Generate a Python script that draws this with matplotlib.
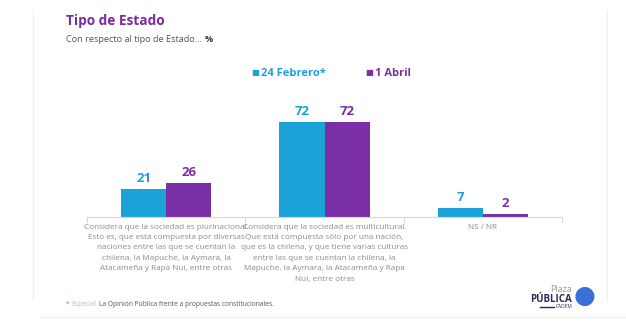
import numpy as np
import matplotlib.pyplot as plt
from matplotlib.lines import Line2D

categorias = [
    "Considera que la sociedad es plurinacional.\nEsto es, que está compuesta por diversas\nnaciones entre las que se cuentan la\nchilena, la Mapuche, la Aymara, la\nAtacameña y Rapa Nui, entre otras",
    "Considera que la sociedad es multicultural.\nQue está compuesta sólo por una nación,\nque es la chilena, y que tiene varias culturas\nentre las que se cuentan la chilena, la\nMapuche, la Aymara, la Atacameña y Rapa\nNui, entre otras",
    "NS / NR",
]
series = ["24 Febrero*", "1 Abril"]
febrero = [21, 72, 7]
abril = [26, 72, 2]

CIAN = "#1ba3d9"
MORADO = "#7b2fa6"
GRIS = "#8c8c8c"

plt.rcParams['font.family'] = ['Open Sans', 'DejaVu Sans']

fig = plt.figure(figsize=(6.26, 3.24), dpi=100)
W, H = 626, 324

# marco suave de la tarjeta
fig.add_artist(Line2D([33 / W, 33 / W], [1 - 10 / H, 1 - 300 / H], color="#f0f0f0", lw=1))
fig.add_artist(Line2D([607 / W, 607 / W], [1 - 10 / H, 1 - 300 / H], color="#f0f0f0", lw=1))
fig.add_artist(Line2D([40 / W, 1.0], [1 - 317 / H, 1 - 317 / H], color="#f0f0f0", lw=1))

# ejes: base en y=217 px, 72 -> 95 px
ax = fig.add_axes([87 / W, 1 - 217 / H, 475 / W, 132 / H])
x = np.arange(len(categorias))
ancho = 0.285
ax.bar(x - ancho / 2, febrero, ancho, color=CIAN)
ax.bar(x + ancho / 2, abril, ancho, color=MORADO)
for i in range(len(categorias)):
    ax.text(x[i] - ancho / 2, febrero[i] + 3, str(febrero[i]), ha="center", va="bottom",
            color=CIAN, fontsize=9.5, fontweight="bold")
    ax.text(x[i] + ancho / 2, abril[i] + 3, str(abril[i]), ha="center", va="bottom",
            color=MORADO, fontsize=9.5, fontweight="bold")
    ax.text(x[i], -5.0, categorias[i], ha="center", va="top", color=GRIS,
            fontsize=5.9, linespacing=1.68)

ax.set_xlim(-0.5, 2.5)
ax.set_ylim(0, 100)
for s in ["top", "right", "left"]:
    ax.spines[s].set_visible(False)
ax.spines["bottom"].set_color("#d9d9d9")
ax.set_yticks([])
ax.set_xticks([-0.5, 0.5, 1.5, 2.5])
ax.set_xticklabels([])
ax.tick_params(axis="x", length=4, color="#d9d9d9")


def a_continuacion(prev, texto, sep=2, **kw):
    # coloca un texto justo despues de otro
    return ax.annotate(texto, xy=(1, 0.5), xycoords=prev, xytext=(sep, 0),
                       textcoords="offset points", va="center", ha="left",
                       annotation_clip=False, **kw)


# titulo y subtitulo
fig.text(66 / W, 1 - 21 / H, "Tipo de Estado", color="#7a2a9c", fontsize=9.8,
         fontweight="bold", va="center")
sub = fig.text(66 / W, 1 - 40 / H, "Con respecto al tipo de Estado...", color="#555555",
               fontsize=6.6, va="center")
a_continuacion(sub, "%", color="#333333", fontsize=6.6, fontweight="bold")

# leyenda
c1 = fig.text(251 / W, 1 - 73 / H, "■", color=CIAN, fontsize=6, va="center", family="DejaVu Sans")
a_continuacion(c1, series[0], sep=1.5, color=CIAN, fontsize=8, fontweight="bold")
c2 = fig.text(365 / W, 1 - 73 / H, "■", color=MORADO, fontsize=6, va="center", family="DejaVu Sans")
a_continuacion(c2, series[1], sep=1.5, color=MORADO, fontsize=8, fontweight="bold")

# nota al pie
n1 = fig.text(66 / W, 1 - 304 / H, "*", color="#e05a8a", fontsize=4.8, va="center")
n2 = a_continuacion(n1, "Especial", sep=1.5, color="#bbbbbb", fontsize=4.8)
a_continuacion(n2, "La Opinión Pública frente a propuestas constitucionales.", sep=1.5,
               color="#555555", fontsize=4.8)

# logo
fig.text(572 / W, 1 - 290 / H, "Plaza", color="#999999", fontsize=6.5, ha="right", va="center")
fig.text(572 / W, 1 - 299 / H, "PÚBLICA", color="#2b2b5a", fontsize=7, fontweight="bold",
         ha="right", va="center")
fig.text(572 / W, 1 - 307 / H, "CADEM", color="#2b2b5a", fontsize=3.5, ha="right", va="center")
fig.add_artist(Line2D([540 / W, 554 / W], [1 - 307 / H, 1 - 307 / H], color="#2b2b5a", lw=1))
fig.text(585 / W, 1 - 296 / H, "●", color="#3a6fd8", fontsize=18, ha="center", va="center",
         family="DejaVu Sans")

fig.savefig("out.png", dpi=100)
